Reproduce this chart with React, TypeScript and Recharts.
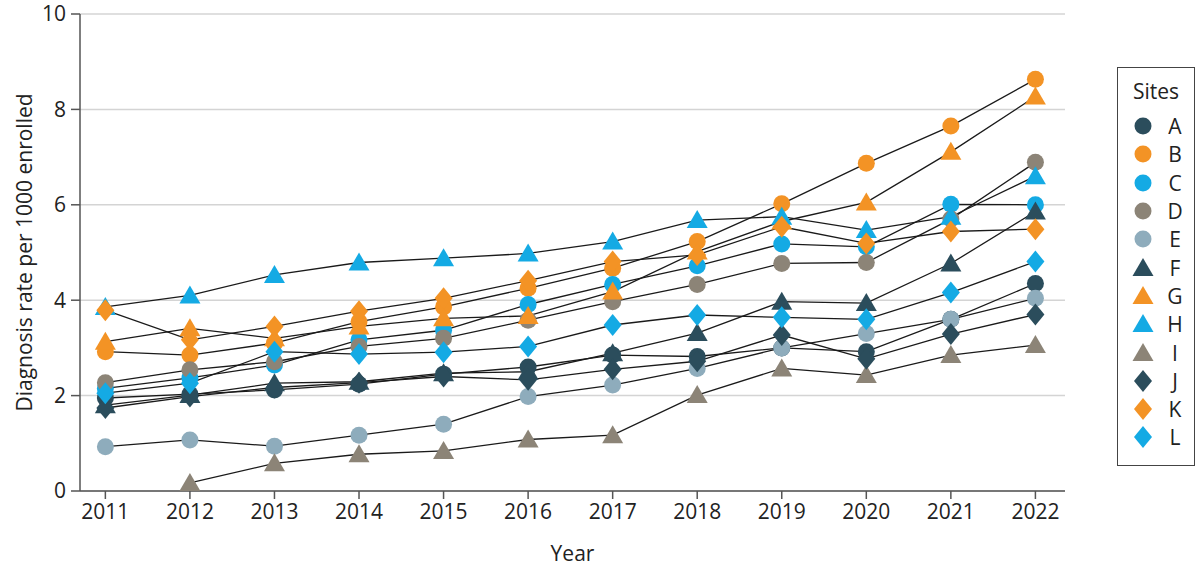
import { CartesianGrid, Line, LineChart, XAxis, YAxis } from 'recharts'

const years = [2011, 2012, 2013, 2014, 2015, 2016, 2017, 2018, 2019, 2020, 2021, 2022]
const yTicks = [0, 2, 4, 6, 8, 10]

const siteA = [1.95, 2.03, 2.12, 2.24, 2.45, 2.6, 2.85, 2.82, 3.0, 2.92, 3.6, 4.35]
const siteB = [2.92, 2.85, 3.1, 3.55, 3.86, 4.25, 4.67, 5.23, 6.02, 6.87, 7.65, 8.63]
const siteC = [2.15, 2.37, 2.64, 3.17, 3.37, 3.91, 4.33, 4.72, 5.18, 5.12, 6.01, 6.0]
const siteD = [2.27, 2.54, 2.71, 3.03, 3.2, 3.58, 3.97, 4.33, 4.77, 4.79, 5.7, 6.89]
const siteE = [0.93, 1.07, 0.94, 1.17, 1.4, 1.98, 2.22, 2.57, 3.0, 3.3, 3.6, 4.04]
const siteF = [1.8, 2.01, 2.26, 2.29, 2.47, 2.5, 2.89, 3.31, 3.97, 3.94, 4.77, 5.86]
const siteG = [3.13, 3.41, 3.2, 3.45, 3.62, 3.67, 4.18, 5.02, 5.65, 6.05, 7.11, 8.27]
const siteH = [3.86, 4.1, 4.53, 4.79, 4.88, 4.98, 5.23, 5.68, 5.75, 5.47, 5.75, 6.6]
const siteI = [null, 0.17, 0.58, 0.77, 0.84, 1.08, 1.17, 2.01, 2.57, 2.43, 2.85, 3.06]
const siteJ = [1.74, 1.98, 2.17, 2.27, 2.4, 2.33, 2.55, 2.72, 3.27, 2.77, 3.29, 3.7]
const siteK = [3.79, 3.17, 3.45, 3.77, 4.04, 4.41, 4.81, 4.95, 5.54, 5.19, 5.44, 5.49]
const siteL = [2.05, 2.26, 2.92, 2.87, 2.91, 3.03, 3.48, 3.69, 3.64, 3.6, 4.16, 4.81]

const NAVY = '#2b4d5c'
const ORANGE = '#f39325'
const BLUE = '#14aae4'
const TAUPE = '#8c8477'
const SLATE = '#8eacbc'

type Shape = 'circle' | 'triangle' | 'diamond'

const sites: { name: string; values: (number | null)[]; color: string; shape: Shape }[] = [
  { name: 'A', values: siteA, color: NAVY, shape: 'circle' },
  { name: 'B', values: siteB, color: ORANGE, shape: 'circle' },
  { name: 'C', values: siteC, color: BLUE, shape: 'circle' },
  { name: 'D', values: siteD, color: TAUPE, shape: 'circle' },
  { name: 'E', values: siteE, color: SLATE, shape: 'circle' },
  { name: 'F', values: siteF, color: NAVY, shape: 'triangle' },
  { name: 'G', values: siteG, color: ORANGE, shape: 'triangle' },
  { name: 'H', values: siteH, color: BLUE, shape: 'triangle' },
  { name: 'I', values: siteI, color: TAUPE, shape: 'triangle' },
  { name: 'J', values: siteJ, color: NAVY, shape: 'diamond' },
  { name: 'K', values: siteK, color: ORANGE, shape: 'diamond' },
  { name: 'L', values: siteL, color: BLUE, shape: 'diamond' },
]

const rows = years.map((year, i) => {
  const row: Record<string, number | null> = { year }
  sites.forEach((site) => {
    row[site.name] = site.values[i]
  })
  return row
})

const FONT = '"Open Sans", sans-serif'
const TEXT = '#222'

function Marker({ cx, cy, shape, color }: { cx: number; cy: number; shape: Shape; color: string }) {
  if (shape === 'circle') return <circle cx={cx} cy={cy} r={8.5} fill={color} />
  if (shape === 'triangle')
    return (
      <polygon
        points={`${cx},${cy - 10} ${cx + 10.5},${cy + 8} ${cx - 10.5},${cy + 8}`}
        fill={color}
      />
    )
  return (
    <polygon
      points={`${cx},${cy - 11} ${cx + 9},${cy} ${cx},${cy + 11} ${cx - 9},${cy}`}
      fill={color}
    />
  )
}

function SitesLegend() {
  return (
    <div
      style={{
        position: 'absolute',
        left: 1117,
        top: 67,
        width: 78,
        height: 399,
        boxSizing: 'border-box',
        border: '1.5px solid #444',
        fontFamily: FONT,
        fontSize: 21,
        color: TEXT,
        background: '#fff',
      }}
    >
      <div style={{ textAlign: 'center', marginTop: 10, height: 34, lineHeight: '26px' }}>Sites</div>
      {sites.map((site) => (
        <div key={site.name} style={{ display: 'flex', alignItems: 'center', height: 28.3 }}>
          <svg width={24} height={24} style={{ marginLeft: 13 }}>
            <Marker cx={12} cy={12} shape={site.shape} color={site.color} />
          </svg>
          <span style={{ marginLeft: 9, width: 22, textAlign: 'center', lineHeight: '26px' }}>{site.name}</span>
        </div>
      ))}
    </div>
  )
}

export default function App() {
  return (
    <div style={{ position: 'absolute', left: 0, top: 0, width: 1200, height: 568, background: '#fff' }}>
      <LineChart width={1200} height={568} data={rows} margin={{ top: 14, right: 135, bottom: 0, left: 0 }}>
        <CartesianGrid stroke="#d4d4d4" strokeWidth={1.5} vertical={false} />
        <XAxis
          dataKey="year"
          type="number"
          domain={[2010.7, 2022.35]}
          ticks={years}
          height={77}
          axisLine={{ stroke: '#555', strokeWidth: 1.5 }}
          tickLine={{ stroke: '#555', strokeWidth: 1.5 }}
          tickSize={8}
          tickMargin={5}
          tick={{ fill: TEXT, fontSize: 21, fontFamily: FONT }}
          label={{ value: 'Year', position: 'insideBottom', offset: 7, fill: TEXT, fontSize: 21, fontFamily: FONT }}
        />
        <YAxis
          domain={[0, 10]}
          ticks={yTicks}
          width={80}
          axisLine={{ stroke: '#555', strokeWidth: 1.5 }}
          tickLine={{ stroke: '#555', strokeWidth: 1.5 }}
          tickSize={9}
          tickMargin={5}
          tick={{ fill: TEXT, fontSize: 21, fontFamily: FONT }}
          label={{
            content: (props: any) => {
              const vb = props.viewBox || { x: 0, y: 14, width: 80, height: 477 }
              const x = vb.x + 24
              const y = vb.y + vb.height / 2
              return (
                <text
                  x={x}
                  y={y}
                  transform={`rotate(-90 ${x} ${y})`}
                  textAnchor="middle"
                  dominantBaseline="central"
                  fill={TEXT}
                  fontSize={21}
                  fontFamily={FONT}
                >
                  Diagnosis rate per 1000 enrolled
                </text>
              )
            },
          }}
        />
        {sites.map((site) => (
          <Line
            key={site.name}
            dataKey={site.name}
            stroke="#1a1a1a"
            strokeWidth={1.3}
            isAnimationActive={false}
            activeDot={false}
            dot={(props: any) => {
              if (props.cy == null || props.value == null) return <g key={`${site.name}-${props.index}`} />
              return (
                <Marker
                  key={`${site.name}-${props.index}`}
                  cx={props.cx}
                  cy={props.cy}
                  shape={site.shape}
                  color={site.color}
                />
              )
            }}
          />
        ))}
      </LineChart>
      <SitesLegend />
    </div>
  )
}
